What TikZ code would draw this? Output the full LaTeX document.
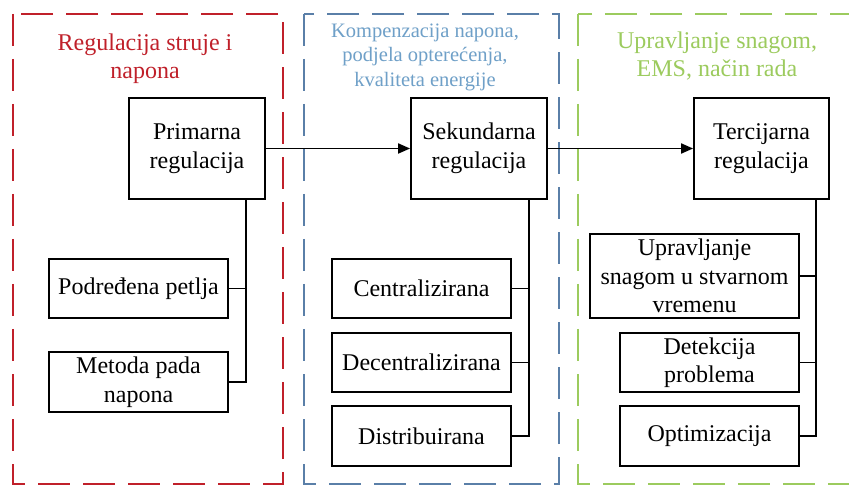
\documentclass[tikz,border=0pt]{standalone}
\usepackage{fontspec}
\setmainfont{Liberation Serif}
\usetikzlibrary{arrows.meta}
\definecolor{redc}{RGB}{192,32,42}
\definecolor{bluec}{RGB}{90,127,168}
\definecolor{bluet}{RGB}{111,160,200}
\definecolor{greenc}{RGB}{156,203,94}
\tikzset{
  box/.style={draw=black, line width=1.8pt, inner sep=0pt, align=center,
    font=\fontsize{24}{28.5}\selectfont},
  group/.style={line width=2pt, dash pattern=on 32pt off 13pt},
  conn/.style={line width=1.8pt},
  arr/.style={line width=1.8pt, -{Triangle[length=12pt,width=10pt]}},
  ttl/.style={align=center, inner sep=0pt, font=\fontsize{24}{28}\selectfont}
}
\begin{document}
\begin{tikzpicture}[x=1pt,y=-1pt]
\useasboundingbox (0,0) rectangle (849,486);
\clip (0,0) rectangle (849,486);
\fill[white] (0,0) rectangle (849,486);
% groups
\draw[group, draw=redc] (13,14) rectangle (283,484);
\draw[group, draw=bluec] (304,14) rectangle (559,484);
\draw[group, draw=greenc] (578,14) rectangle (880,484);
% titles
\node[ttl, text=redc] (t1) at (145,59) {Regulacija struje i\\napona};
\node[ttl, text=bluet, font=\fontsize{20.5}{24.5}\selectfont] (t2) at (425,57) {Kompenzacija napona,\\podjela opterećenja,\\kvaliteta energije};
\node[ttl, text=greenc] (t3) at (717,56) {Upravljanje snagom,\\EMS, način rada};
% main boxes
\node[box, minimum width=136pt, minimum height=101pt] (prim) at (197,148.5) {Primarna\\regulacija};
\node[box, minimum width=136pt, minimum height=101pt] (sek) at (479,148.5) {Sekundarna\\regulacija};
\node[box, minimum width=135pt, minimum height=101pt] (ter) at (761.5,148.5) {Tercijarna\\regulacija};
% sub boxes
\node[box, minimum width=179pt, minimum height=59pt] (pod) at (138.5,288.5) {Podređena petlja};
\node[box, minimum width=179pt, minimum height=60pt] (met) at (138.5,382) {Metoda pada\\napona};
\node[box, minimum width=179pt, minimum height=59pt] (cen) at (421.5,288.5) {Centralizirana};
\node[box, minimum width=179pt, minimum height=59pt] (dec) at (421.5,362.5) {Decentralizirana};
\node[box, minimum width=179pt, minimum height=60pt] (dis) at (421.5,436) {Distribuirana};
\node[box, minimum width=209pt, minimum height=84pt] (upr) at (694.5,276) {Upravljanje\\snagom u stvarnom\\vremenu};
\node[box, minimum width=179pt, minimum height=59pt] (det) at (709.5,362.5) {Detekcija\\problema};
\node[box, minimum width=179pt, minimum height=60pt] (opt) at (709.5,436) {Optimizacija};
% arrows
\draw[arr] (prim.east) -- (sek.west);
\draw[arr] (sek.east) -- (ter.west);
% tree connectors
\coordinate (pb) at (246,0);
\draw[conn] (prim.south -| pb) -- (met.east -| pb) -- (met.east);
\draw[conn] (pod.east) -- (pod.east -| pb);
\coordinate (sb) at (529,0);
\draw[conn] (sek.south -| sb) -- (dis.east -| sb) -- (dis.east);
\draw[conn] (cen.east) -- (cen.east -| sb);
\draw[conn] (dec.east) -- (dec.east -| sb);
\coordinate (tb) at (816,0);
\draw[conn] (ter.south -| tb) -- (opt.east -| tb) -- (opt.east);
\draw[conn] (upr.east) -- (upr.east -| tb);
\draw[conn] (det.east) -- (det.east -| tb);
\end{tikzpicture}
\end{document}
